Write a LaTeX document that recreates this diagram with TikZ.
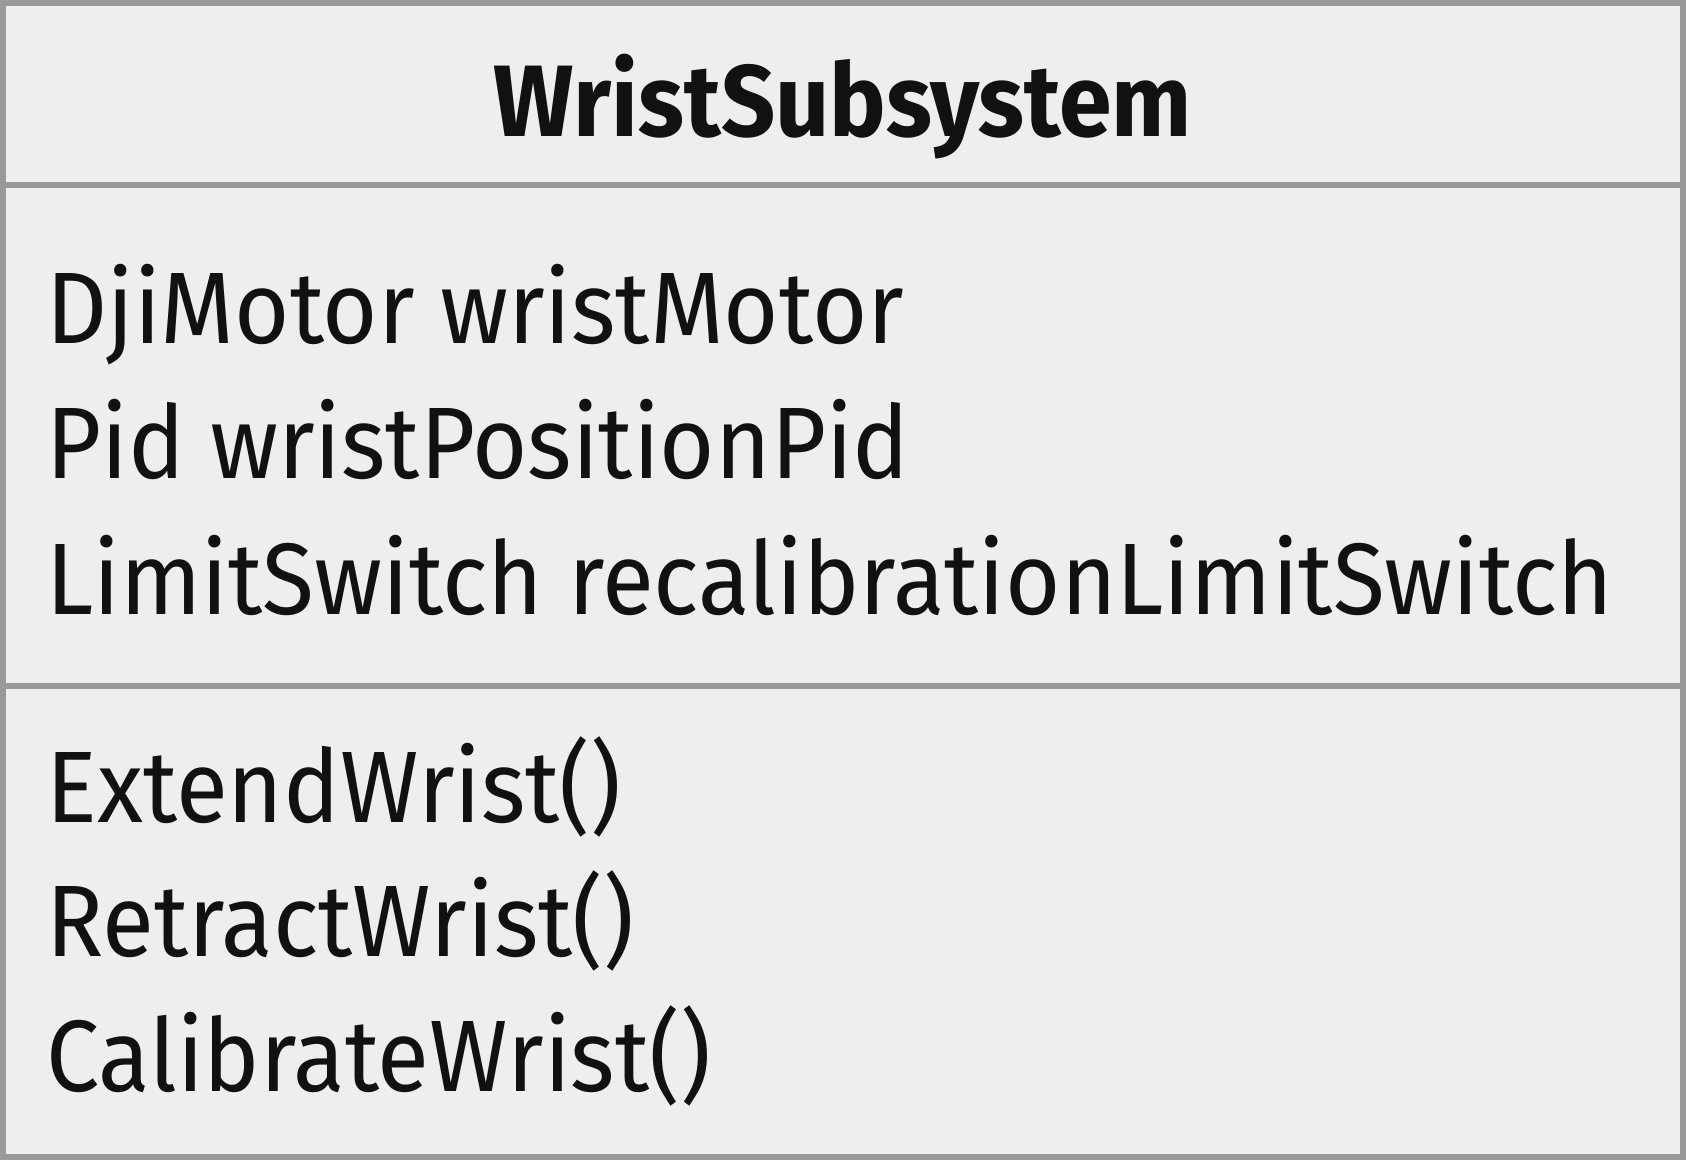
\documentclass[tikz,border=0pt]{standalone}
\usepackage{fontspec}
\setmainfont{Fira Sans}[FakeStretch=0.934]
\definecolor{boxfill}{HTML}{EEEEEE}
\definecolor{boxline}{HTML}{999999}
\definecolor{txt}{HTML}{111111}
\tikzset{
  member/.style={anchor=base west, inner sep=0pt, text=txt, font=\fontsize{50.8}{60}\selectfont},
  title/.style={anchor=base, inner sep=0pt, text=txt, font=\fontsize{50.8}{60}\selectfont\bfseries},
  frame/.style={draw=boxline, line width=2.9pt, fill=boxfill},
  divider/.style={draw=boxline, line width=3pt}
}
\begin{document}
\begin{tikzpicture}[x=0.5pt,y=-0.5pt]
\useasboundingbox (0,0) rectangle (1686,1160);
\path[frame] (2.9,2.9) rectangle (1683.1,1157.1);
\coordinate (d1l) at (0,185);
\coordinate (d1r) at (1686,185);
\coordinate (d2l) at (0,686);
\coordinate (d2r) at (1686,686);
\draw[divider] (d1l) -- (d1r);
\draw[divider] (d2l) -- (d2r);
\node[title] (t) at (843,137) {WristSubsystem};
\node[member] (a1) at (46,344) {DjiMotor wristMotor};
\node[member] (a2) at (46,479) {Pid wristPositionPid};
\node[member] (a3) at (46,614) {LimitSwitch recalibrationLimitSwitch};
\node[member] (m1) at (46,822) {ExtendWrist()};
\node[member] (m2) at (46,956.5) {RetractWrist()};
\node[member] (m3) at (46,1091) {CalibrateWrist()};
\end{tikzpicture}
\end{document}
